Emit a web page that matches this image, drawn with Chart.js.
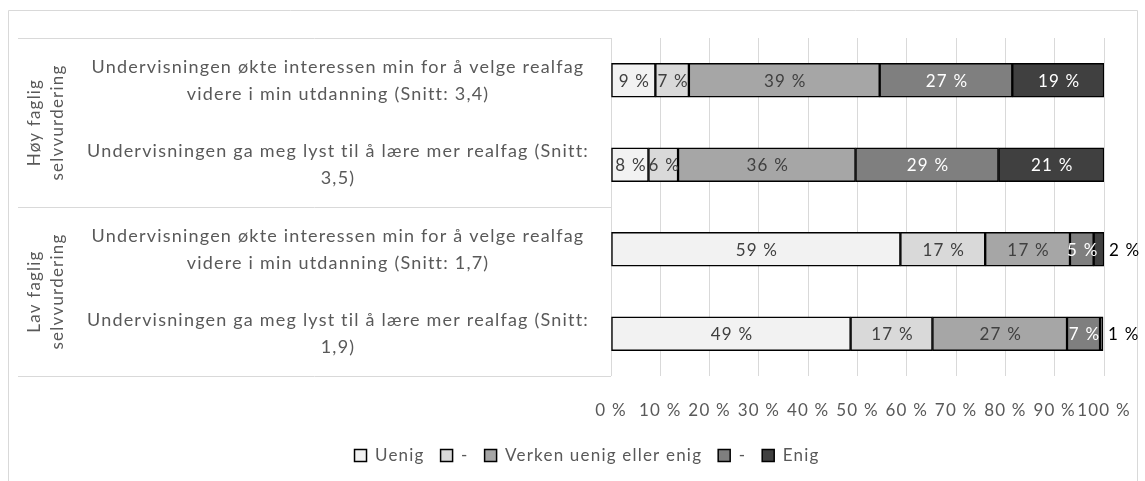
<!DOCTYPE html>
<html>
<head>
<meta charset="utf-8">
<script src="https://cdn.jsdelivr.net/npm/chart.js@4"></script>
<style>
html, body { margin: 0; padding: 0; background: #fff; }
</style>
</head>
<body>
<canvas id="chart" width="1145" height="481"></canvas>
<script>
const categories = [
    ['Undervisningen økte interessen min for å velge realfag', 'videre i min utdanning (Snitt: 3,4)'],
    ['Undervisningen ga meg lyst til å lære mer realfag (Snitt:', '3,5)'],
    ['Undervisningen økte interessen min for å velge realfag', 'videre i min utdanning (Snitt: 1,7)'],
    ['Undervisningen ga meg lyst til å lære mer realfag (Snitt:', '1,9)']
];
const groups = [['Høy faglig', 'selvvurdering'], ['Lav faglig', 'selvvurdering']];
const seriesNames = ['Uenig', '-', 'Verken uenig eller enig', '-', 'Enig'];
const uenig = [9.0, 7.6, 58.7, 48.6];
const littUenig = [6.8, 6.0, 17.2, 16.6];
const verken = [38.7, 36.0, 17.2, 27.3];
const littEnig = [26.9, 29.0, 4.8, 6.7];
const enig = [18.6, 21.4, 2.1, 0.6];
const xTicks = [0, 10, 20, 30, 40, 50, 60, 70, 80, 90, 100];

const colors = ['#f2f2f2', '#d9d9d9', '#a6a6a6', '#7f7f7f', '#404040'];
const FONT = 'Lato';
const SPACING = '1.2px';

// bokstavavstand som i originalen
const spacing = {
    id: 'spacing',
    beforeLayout(chart) { chart.ctx.letterSpacing = SPACING; },
    beforeDraw(chart) { chart.ctx.letterSpacing = SPACING; }
};

// tekst i segmentene
const segLabels = {
    id: 'segLabels',
    afterDatasetsDraw(chart) {
        const ctx = chart.ctx;
        ctx.save();
        ctx.font = '17px ' + FONT;
        ctx.textBaseline = 'middle';
        chart.data.datasets.forEach((ds, i) => {
            const meta = chart.getDatasetMeta(i);
            meta.data.forEach((bar, j) => {
                const v = ds.data[j];
                const txt = Math.round(v) + ' %';
                if (v < 3) {
                    ctx.fillStyle = '#000';
                    ctx.textAlign = 'left';
                    ctx.fillText(txt, bar.x + 5, bar.y + 1);
                } else {
                    ctx.fillStyle = i >= 3 ? '#ffffff' : '#404040';
                    ctx.textAlign = 'center';
                    ctx.fillText(txt, (bar.x + bar.base) / 2 + 1, bar.y + 1);
                }
            });
        });
        ctx.restore();
    }
};

// ramme, tabellinjer og gruppenavn
const frame = {
    id: 'frame',
    beforeDraw(chart) {
        const ctx = chart.ctx;
        const area = chart.chartArea;
        const y = chart.scales.y;
        ctx.save();
        ctx.strokeStyle = '#d9d9d9';
        ctx.lineWidth = 1;
        ctx.beginPath();
        ctx.moveTo(8.5, 481);
        ctx.lineTo(8.5, 10.5);
        ctx.lineTo(1137.5, 10.5);
        ctx.lineTo(1137.5, 481);
        ctx.stroke();

        const mid = (y.getPixelForValue(1) + y.getPixelForValue(2)) / 2;
        [area.top, mid, area.bottom].forEach(py => {
            ctx.beginPath();
            ctx.moveTo(18, Math.round(py) + 0.5);
            ctx.lineTo(area.left, Math.round(py) + 0.5);
            ctx.stroke();
        });

        ctx.fillStyle = '#595959';
        ctx.font = '17px ' + FONT;
        ctx.textAlign = 'center';
        ctx.textBaseline = 'middle';
        const centers = [(area.top + mid) / 2, (mid + area.bottom) / 2];
        groups.forEach((g, k) => {
            ctx.save();
            ctx.translate(47, centers[k]);
            ctx.rotate(-Math.PI / 2);
            ctx.fillText(g[0], 0, -12);
            ctx.fillText(g[1], 0, 11);
            ctx.restore();
        });
        ctx.restore();
    }
};

const series = [uenig, littUenig, verken, littEnig, enig];

new Chart(document.getElementById('chart').getContext('2d'), {
    type: 'bar',
    data: {
        labels: categories,
        datasets: series.map((d, i) => ({
            label: seriesNames[i],
            data: d,
            backgroundColor: colors[i],
            borderColor: '#000',
            borderWidth: 1.5,
            borderSkipped: false,
            barThickness: 34
        }))
    },
    options: {
        indexAxis: 'y',
        responsive: false,
        animation: false,
        layout: { padding: { left: 70, right: 41, top: 38, bottom: 7 } },
        plugins: {
            tooltip: { enabled: false },
            legend: {
                position: 'bottom',
                labels: {
                    boxWidth: 12,
                    boxHeight: 12,
                    padding: 16,
                    color: '#595959',
                    font: { family: FONT, size: 17 }
                }
            }
        },
        scales: {
            x: {
                stacked: true,
                min: 0,
                max: 100,
                afterBuildTicks: scale => { scale.ticks = xTicks.map(v => ({ value: v })); },
                grid: { color: '#d9d9d9', drawTicks: false },
                border: { display: false },
                ticks: {
                    color: '#595959',
                    font: { family: FONT, size: 17 },
                    padding: 24,
                    maxRotation: 0,
                    autoSkip: false,
                    callback: v => v + ' %'
                },
                afterFit: scale => {
                    scale.height = 55;
                    scale.paddingLeft = 0;
                    scale.paddingRight = 0;
                }
            },
            y: {
                stacked: true,
                grid: { display: false },
                border: { display: false },
                ticks: {
                    color: '#595959',
                    crossAlign: 'center',
                    padding: 14,
                    font: { family: FONT, size: 18, lineHeight: 1.5 }
                },
                afterFit: scale => {
                    scale.width = 541;
                    scale.paddingTop = 0;
                    scale.paddingBottom = 0;
                }
            }
        }
    },
    plugins: [spacing, frame, segLabels]
});
</script>
</body>
</html>
